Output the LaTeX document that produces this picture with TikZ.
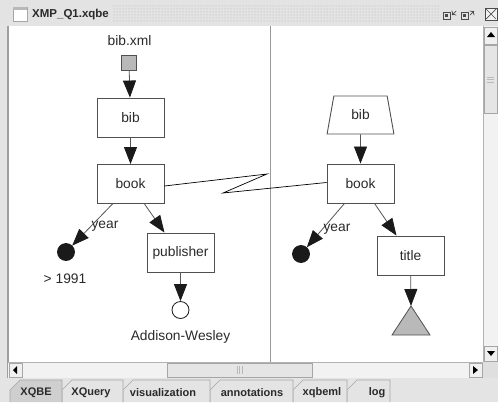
\documentclass[tikz,border=0pt]{standalone}
\usepackage{fontspec}
\setmainfont{Liberation Sans}
\usetikzlibrary{arrows.meta,shapes.geometric,patterns}
\definecolor{winbg}{HTML}{E4E4E4}
\definecolor{edgec}{HTML}{555555}
\definecolor{tipc}{HTML}{1A1A1A}
\definecolor{txtc}{HTML}{2A2A2A}
\definecolor{boxc}{HTML}{505050}
\tikzset{
  lbl/.style={font=\fontsize{13.8}{16}\selectfont, text=txtc, inner sep=0pt},
  qbox/.style={draw=boxc, line width=0.9pt, fill=white, minimum width=67pt, minimum height=39pt, inner sep=0pt, font=\fontsize{13.8}{16}\selectfont, text=txtc},
  arr/.style={draw=edgec, line width=0.8pt, -{Triangle[length=17pt,width=13pt,color=tipc,fill=tipc]}},
  dotn/.style={circle, draw=tipc, line width=0.8pt, minimum size=17pt, inner sep=0pt},
  tabtxt/.style={font=\bfseries\fontsize{11}{13}\selectfont, text=txtc, inner sep=0pt},
  tabshape/.style={draw=gray!70, line width=0.6pt},
  sbtn/.style={draw=gray!70, line width=0.5pt, fill=gray!12},
}
\begin{document}
\begin{tikzpicture}[x=1pt,y=-1pt]
\useasboundingbox (0,0) rectangle (498,402);
% window background
\fill[winbg] (0,0) rectangle (498,402);
% title bar
\fill[gray!22] (0,0) rectangle (498,25);
\fill[pattern=dots, pattern color=gray!60] (112,4) rectangle (440,21);
\draw[gray!70, line width=0.6pt, fill=white] (13,7) rectangle (27,21);
\fill[gray!55] (13,7) rectangle (27,10);
\node[anchor=west, font=\bfseries\fontsize{11.5}{13}\selectfont, text=txtc, inner sep=0pt] (ttl) at (32,14.5) {XMP\_Q1.xqbe};
% title buttons
\draw[gray!60!black, line width=0.8pt] (443,12) rectangle (450,19);
\fill[gray!60!black] (445,14) rectangle (448,17);
\draw[gray!60!black, line width=0.7pt, ->] (456,11) -- (452,15);
\draw[gray!60!black, line width=0.8pt] (461,12) rectangle (468,19);
\fill[gray!60!black] (463,14) rectangle (466,17);
\draw[gray!60!black, line width=0.7pt, ->] (470,15) -- (474,11);
\draw[gray!60!black, line width=0.8pt, fill=gray!10] (485,8) rectangle (497,20);
\draw[gray!60!black, line width=0.7pt] (486,9) -- (496,19) (496,9) -- (486,19);
% main panel
\fill[white] (8,26) rectangle (483,362);
\draw[gray!75, line width=1.2pt] (8,26) -- (8,378);
\draw[gray!80, line width=0.6pt] (270,26) -- (270,362);
% vertical scrollbar
\fill[gray!10] (483,26) rectangle (498,362);
\draw[gray!60, line width=0.5pt] (483,26) -- (483,362);
\draw[sbtn] (484,27) rectangle (497,44);
\fill[black] (491,32) -- (487,37) -- (495,37) -- cycle;
\draw[sbtn, fill=gray!20] (484,45) rectangle (497,113);
\draw[gray!55, line width=0.5pt] (487,77) -- (494,77) (487,79.5) -- (494,79.5) (487,82) -- (494,82);
\draw[sbtn] (484,346) rectangle (497,361);
\fill[black] (487,351) -- (495,351) -- (491,356) -- cycle;
% horizontal scrollbar
\fill[gray!10] (8,362) rectangle (483,378);
\draw[gray!60, line width=0.5pt] (8,362) -- (483,362);
\draw[sbtn] (9,363) rectangle (22,377);
\fill[black] (13,370) -- (17,366) -- (17,374) -- cycle;
\draw[sbtn, fill=gray!20] (167,363) rectangle (312,377);
\draw[gray!55, line width=0.5pt] (237,366) -- (237,374) (239.5,366) -- (239.5,374) (242,366) -- (242,374);
\draw[sbtn] (469,363) rectangle (482,377);
\fill[black] (473,366) -- (478,370) -- (473,374) -- cycle;
\fill[gray!25] (483,362) rectangle (498,378);
% tabs
\draw[tabshape, fill=winbg] (347,402) -- (347,390) -- (357,380) -- (390,380) -- (390,402);
\draw[tabshape, fill=winbg] (293,402) -- (293,390) -- (303,380) -- (347,380) -- (347,402);
\draw[tabshape, fill=winbg] (210,402) -- (210,390) -- (220,380) -- (293,380) -- (293,402);
\draw[tabshape, fill=winbg] (123,402) -- (123,390) -- (133,380) -- (210,380) -- (210,402);
\draw[tabshape, fill=winbg] (62,402) -- (62,390) -- (72,380) -- (123,380) -- (123,402);
\draw[tabshape, fill=gray!38] (10,402) -- (10,390) -- (20,380) -- (62,380) -- (62,402);
\node[tabtxt] (t1) at (36,393) {XQBE};
\node[tabtxt] (t2) at (91,393) {XQuery};
\node[tabtxt] (t3) at (163,393) {visualization};
\node[tabtxt] (t4) at (252,393) {annotations};
\node[tabtxt] (t5) at (322,393) {xqbeml};
\node[tabtxt] (t6) at (377,393) {log};
% ---- left query
\node[lbl] (srcl) at (129.5,41) {bib.xml};
\node[draw=boxc, line width=0.8pt, fill=gray!55, minimum size=15pt, inner sep=0pt] (src) at (129,62.5) {};
\node[qbox] (bibL) at (130.5,117.5) {bib};
\node[qbox] (bookL) at (130.5,184) {book};
\node[dotn, fill=tipc] (yearL) at (66,252) {};
\node[lbl] (gt) at (65,279) {> 1991};
\node[qbox] (pub) at (180.5,252.5) {publisher};
\node[dotn, fill=white] (circL) at (180.5,310) {};
\node[lbl] (aw) at (180.5,337) {Addison-Wesley};
\draw[arr] (src) -- (bibL);
\draw[arr] (bibL) -- (bookL);
\draw[arr] ([xshift=-18pt]bookL.south) -- (yearL);
\node[lbl] (yl) at (105,226) {year};
\draw[arr] ([xshift=14pt]bookL.south) -- ([xshift=-16pt]pub.north);
\draw[arr] (pub) -- (circL);
% ---- right query
\node[trapezium, trapezium stretches=true, trapezium left angle=77, trapezium right angle=77, draw=boxc, line width=0.9pt, fill=white, minimum width=67pt, minimum height=38pt, inner sep=0pt, font=\fontsize{13.8}{16}\selectfont, text=txtc] (bibR) at (360.5,115) {bib};
\node[qbox] (bookR) at (360.5,183.5) {book};
\node[dotn, fill=tipc] (yearR) at (301,254) {};
\node[qbox] (title) at (410.5,255.5) {title};
\coordinate (apex) at (411,306);
\draw[boxc, line width=0.8pt, fill=gray!55] (apex) -- (430,335) -- (392,335) -- cycle;
\draw[arr] (bibR) -- (bookR);
\draw[arr] ([xshift=-16pt]bookR.south) -- (yearR);
\node[lbl] (yr) at (337,229) {year};
\draw[arr] ([xshift=14pt]bookR.south) -- ([xshift=-14pt]title.north);
\draw[arr] (title) -- (apex);
% ---- join link
\coordinate (z1) at (267,174);
\coordinate (z2) at (223,193);
\draw[black, line width=0.7pt] ([yshift=-2pt]bookL.east) -- (z1) -- (z2) -- ([yshift=1pt]bookR.west);
\end{tikzpicture}
\end{document}
